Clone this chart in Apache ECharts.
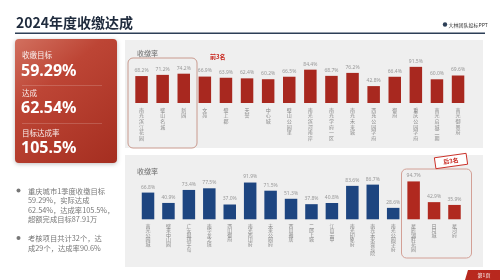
<!DOCTYPE html>
<html><head><meta charset="utf-8">
<script src="https://cdn.jsdelivr.net/npm/echarts@6/dist/echarts.min.js"></script>
<style>html,body{margin:0;padding:0;background:#fff}#c{width:500px;height:280px}</style>
</head><body><div id="c"></div>
<script>
const topCategories = ['南光滨江花园','璧山名城','新园','文苑','璧上郡','天誉','中心城','璧山公园里','南光滨河南岸','南光学府一区','南光未来城','西充公园学府','御府','重庆公园学府','南光启城二期','南光御景府'];
const topValues = [68.2,71.2,74.2,66.9,63.9,62.4,60.2,66.5,84.4,68.7,76.2,42.8,66.4,91.5,60.0,69.6];
const bottomCategories = ['南光公园城','璧来中山园','广安琨琪半岛','南华龙之境','西山御府','南光西山府','未来公园府','西山雅居','二郎上城','江山云中','南光印象府','南光未来壹号院','南光公园学府','星辰湖畔花园','日月城','星河府'];
const bottomValues = [66.8,40.9,73.4,77.5,37.0,91.9,71.5,51.3,37.8,40.8,83.6,86.7,28.6,94.7,42.9,35.9];
const kpiLabels = ['收缴目标','达成','目标达成率'];
const kpiValues = ['59.29%','62.54%','105.5%'];

const CJK = '"Noto Sans CJK SC","Noto Sans",sans-serif';
const chart = echarts.init(document.getElementById('c'));
const vert = s => s.split('').join('\n');
const g = [];
// title
g.push({type:'text',x:16,y:23,style:{text:'2024年度收缴达成',font:'bold 14px '+CJK,fill:'#1f2b3d',verticalAlign:'middle'}});
g.push({type:'rect',shape:{x:15,y:32.5,width:470,height:1.6},style:{fill:'#2d3f57'}});
g.push({type:'circle',shape:{cx:445,cy:24.5,r:2.2},style:{fill:'#2d3f57'}});
g.push({type:'text',x:448.5,y:25,style:{text:'大林团队投标PPT',font:'5px '+CJK,fill:'#333',verticalAlign:'middle'}});
// panels
g.push({type:'rect',shape:{x:125,y:40,width:358,height:108},style:{fill:'#efefef'}});
g.push({type:'rect',shape:{x:125,y:155,width:358,height:112},style:{fill:'#efefef'}});
g.push({type:'text',x:137,y:53,style:{text:'收缴率',font:'7px '+CJK,fill:'#666',verticalAlign:'middle'}});
g.push({type:'text',x:137,y:171,style:{text:'收缴率',font:'7px '+CJK,fill:'#666',verticalAlign:'middle'}});
// red card
g.push({type:'rect',shape:{x:15,y:39,width:102,height:124,r:4},
  style:{fill:new echarts.graphic.LinearGradient(0,0,1,1,[{offset:0,color:'#d2705f'},{offset:0.35,color:'#bd4535'},{offset:1,color:'#a52e20'}]),
  shadowBlur:4,shadowColor:'rgba(0,0,0,0.25)',shadowOffsetY:1}});
const kY = [55,93,133], vY = [71,108,148];
kpiLabels.forEach((t,i)=>{
  g.push({type:'text',x:22,y:kY[i],style:{text:t,font:'7.5px '+CJK,fill:'rgba(255,255,255,0.9)',verticalAlign:'middle'}});
  g.push({type:'text',x:21,y:vY[i],style:{text:kpiValues[i],font:'bold 16px "Noto Sans",sans-serif',fill:'#fff',verticalAlign:'middle'}});
});
g.push({type:'rect',shape:{x:22,y:85,width:80,height:0.6},style:{fill:'rgba(255,255,255,0.35)'}});
g.push({type:'rect',shape:{x:22,y:123,width:80,height:0.6},style:{fill:'rgba(255,255,255,0.35)'}});
// bullets
g.push({type:'circle',shape:{cx:18.5,cy:190.5,r:2},style:{fill:'#777'}});
g.push({type:'text',x:28,y:186,style:{text:'重庆城市1季度收缴目标\n59.29%，实际达成\n62.54%，达成率105.5%，\n超额完成目标87.91万',font:'7.3px '+CJK,lineHeight:9.6,fill:'#777'}});
g.push({type:'circle',shape:{cx:18.5,cy:238,r:2},style:{fill:'#777'}});
g.push({type:'text',x:28,y:233.5,style:{text:'考核项目共计32个，达\n成29个，达成率90.6%',font:'7.3px '+CJK,lineHeight:9.6,fill:'#777'}});
// highlight boxes
g.push({type:'rect',shape:{x:128,y:58,width:69,height:90,r:5},style:{fill:'none',stroke:'#c99a8e',lineWidth:1}});
g.push({type:'text',x:210,y:57,style:{text:'前3名',font:'bold 6px '+CJK,fill:'#c8281f',verticalAlign:'middle'}});
g.push({type:'rect',shape:{x:401.5,y:169,width:70,height:89,r:5},style:{fill:'none',stroke:'#d3a096',lineWidth:1}});
g.push({type:'group',x:451,y:161,rotation:0.14,children:[
  {type:'rect',shape:{x:-16,y:-5.5,width:32,height:11},style:{fill:'#fff',stroke:'#c8281f',lineWidth:0.9}},
  {type:'text',x:0,y:0,style:{text:'后3名',font:'bold 6px '+CJK,fill:'#c8281f',align:'center',verticalAlign:'middle'}}
]});
// page tag
g.push({type:'polygon',shape:{points:[[468,270],[500,270],[500,280],[465,280]]},style:{fill:'#b8281e'}});
g.push({type:'text',x:484,y:275,style:{text:'第1页',font:'5px '+CJK,fill:'#fff',align:'center',verticalAlign:'middle'}});

const catAxis = (idx,data,lh)=>({type:'category',gridIndex:idx,data:data,
  axisLine:{show:false},axisTick:{show:false},
  axisLabel:{interval:0,margin:4,formatter:v=>vert(v),fontSize:5,lineHeight:lh,color:'#8a8a8a',fontFamily:CJK,verticalAlign:'top'}});
const valAxis = idx=>({type:'value',gridIndex:idx,min:0,max:100,show:false,splitLine:{show:false}});
const lbl = {show:true,position:'top',distance:3,fontSize:5,color:'#999',fontFamily:'"Noto Sans",sans-serif',formatter:p=>p.value.toFixed(1)+'%'};

chart.setOption({
  animation:false,
  graphic:g,
  grid:[
    {left:131,width:337.6,top:63.5,height:39.5},
    {left:137.8,width:326.9,top:179.3,height:40}
  ],
  xAxis:[catAxis(0,topCategories,5.6),catAxis(1,bottomCategories,4.6)],
  yAxis:[valAxis(0),valAxis(1)],
  series:[
    {type:'bar',xAxisIndex:0,yAxisIndex:0,data:topValues,barWidth:12.5,itemStyle:{color:'#a8281f'},label:lbl},
    {type:'bar',xAxisIndex:1,yAxisIndex:1,data:bottomValues,barWidth:12.5,
      itemStyle:{color:p=>p.dataIndex>=bottomValues.length-3?'#b0291f':'#1d4580'},label:lbl}
  ]
});
</script></body></html>
